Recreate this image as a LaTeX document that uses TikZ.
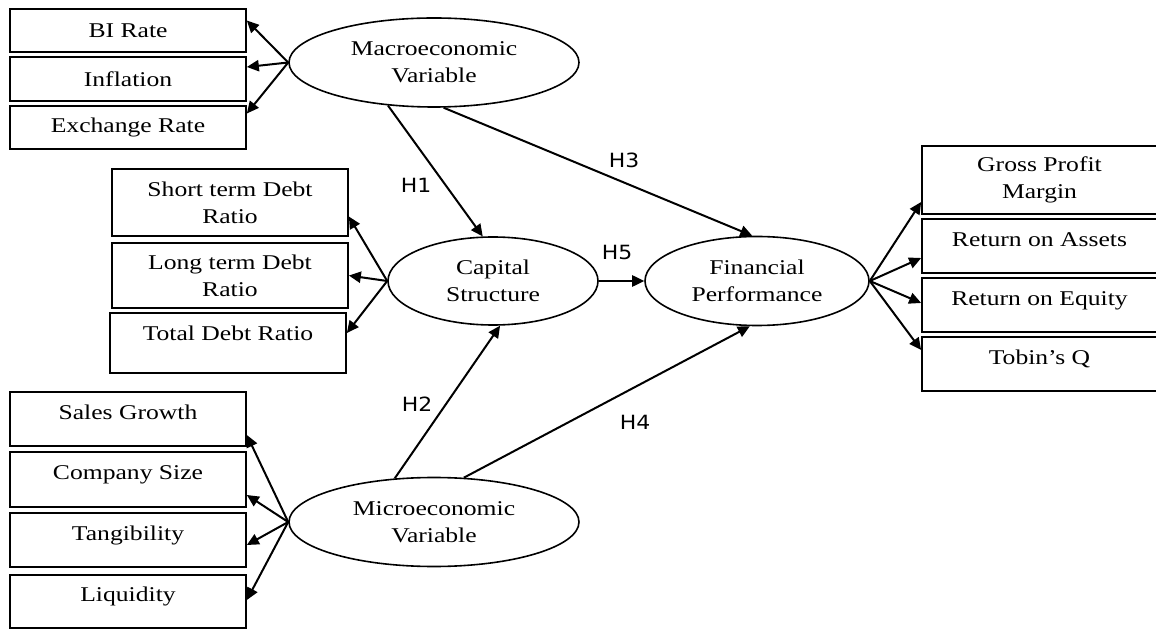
\documentclass[tikz,border=0pt]{standalone}
\usepackage{fontspec}
\setmainfont{Liberation Serif}[FakeStretch=1.22]
\newfontfamily\hypfont{DejaVu Sans}[FakeStretch=1.12]
\usepackage{tikz}
\usetikzlibrary{
    arrows.meta,
    shapes.geometric
}
\definecolor{ink}{RGB}{0,0,0}
\tikzset{
    line cap=round,
    line join=round,
    construct/.style={
        ellipse,
        draw=ink,
        line width=0.8pt,
        minimum width=145pt,
        minimum height=44.5pt,
        inner sep=0pt,
        align=center,
        font=\fontsize{10.5}{13.5}\selectfont,
        text=ink
    },
    indicator/.style={
        rectangle,
        draw=ink,
        line width=0.85pt,
        minimum width=118pt,
        inner sep=1pt,
        align=center,
        font=\fontsize{10.5}{13.5}\selectfont,
        text=ink
    },
    raised/.style={
        text height=7.2pt,
        text depth=#1
    },
    loading/.style={
        -{Triangle[length=6pt,width=5.6pt]},
        draw=ink,
        line width=1pt
    },
    hypothesis/.style={
        loading
    },
    hyplabel/.style={
        font=\hypfont\fontsize{9.8}{12}\selectfont,
        text=ink,
        inner sep=0pt
    }
}

\begin{document}
\begin{tikzpicture}[x=0.5pt, y=-0.5pt]
\useasboundingbox (0,0) rectangle (1156,630);

% Latent constructs
\node[construct] (macro) at (434, 62.5) {Macroeconomic\\Variable};
\node[construct, minimum width=105pt, minimum height=44pt] (capital) at (493, 281) {Capital\\Structure};
\node[construct, minimum width=112pt] (finperf) at (757, 281) {Financial\\Performance};
\node[construct] (micro) at (434, 522) {Microeconomic\\Variable};

% Indicators of the macroeconomic variable
\node[indicator, minimum height=21.5pt] (birate) at (128, 30.5) {BI Rate};
\node[indicator, minimum height=22pt] (inflation) at (128, 79) {Inflation};
\node[indicator, minimum height=21.5pt] (exchrate) at (128, 127.5) {Exchange Rate};

% Indicators of capital structure
\node[indicator, minimum height=33.5pt] (stdr) at (230, 202.5) {Short term Debt\\Ratio};
\node[indicator, minimum height=32.5pt] (ltdr) at (230, 275.5) {Long term Debt\\Ratio};
\node[indicator, minimum height=30pt, raised=10pt] (tdr) at (228, 343) {Total Debt Ratio};

% Indicators of the microeconomic variable
\node[indicator, minimum height=27pt, raised=7pt] (salesgr) at (128, 419) {Sales Growth};
\node[indicator, minimum height=27.5pt, raised=7pt] (compsize) at (128, 479.5) {Company Size};
\node[indicator, minimum height=27pt, raised=7pt] (tangib) at (128, 540) {Tangibility};
\node[indicator, minimum height=26.5pt, raised=7pt] (liquid) at (128, 601.5) {Liquidity};

% Indicators of financial performance (cut by the right edge)
\node[indicator, minimum width=117.5pt, minimum height=34pt] (gpm) at (1039.5, 180) {Gross Profit\\Margin};
\node[indicator, minimum width=117.5pt, minimum height=27pt, raised=7pt] (roa) at (1039.5, 246) {Return on Assets};
\node[indicator, minimum width=117.5pt, minimum height=27pt, raised=7pt] (roe) at (1039.5, 305) {Return on Equity};
\node[indicator, minimum width=117.5pt, minimum height=27pt, raised=7pt] (tobinq) at (1039.5, 364) {Tobin’s Q};

% Loadings
\draw[loading] (macro.west) -- ([yshift=5pt]birate.east);
\draw[loading] (macro.west) -- ([yshift=6pt]inflation.east);
\draw[loading] (macro.west) -- ([yshift=7pt]exchrate.east);

\draw[loading] (capital.west) -- ([yshift=-7pt]stdr.east);
\draw[loading] (capital.west) -- (ltdr.east);
\draw[loading] (capital.west) -- ([yshift=5pt]tdr.east);

\draw[loading] (micro.west) -- ([yshift=-8pt]salesgr.east);
\draw[loading] (micro.west) -- ([yshift=-7.75pt]compsize.east);
\draw[loading] (micro.west) -- ([yshift=-2.5pt]tangib.east);
\draw[loading] (micro.west) -- ([yshift=0.75pt]liquid.east);

\draw[loading] (finperf.east) -- ([yshift=-11pt]gpm.west);
\draw[loading] (finperf.east) -- ([yshift=-6pt]roa.west);
\draw[loading] (finperf.east) -- ([yshift=1pt]roe.west);
\draw[loading] (finperf.east) -- ([yshift=7pt]tobinq.west);

% Hypotheses
\draw[hypothesis] (macro.223) -- (capital.103);
\draw[hypothesis] (micro.132) -- (capital.279);
\draw[hypothesis] (macro.282) -- (finperf.96);
\draw[hypothesis] (micro.56) -- (finperf.261);
\draw[hypothesis] (capital.east) -- (finperf.west);

\node[hyplabel] (lh1) at (416, 185) {H1};
\node[hyplabel] (lh2) at (417, 404) {H2};
\node[hyplabel] (lh3) at (624, 160) {H3};
\node[hyplabel] (lh4) at (635, 422) {H4};
\node[hyplabel] (lh5) at (617, 252) {H5};
\end{tikzpicture}
\end{document}
